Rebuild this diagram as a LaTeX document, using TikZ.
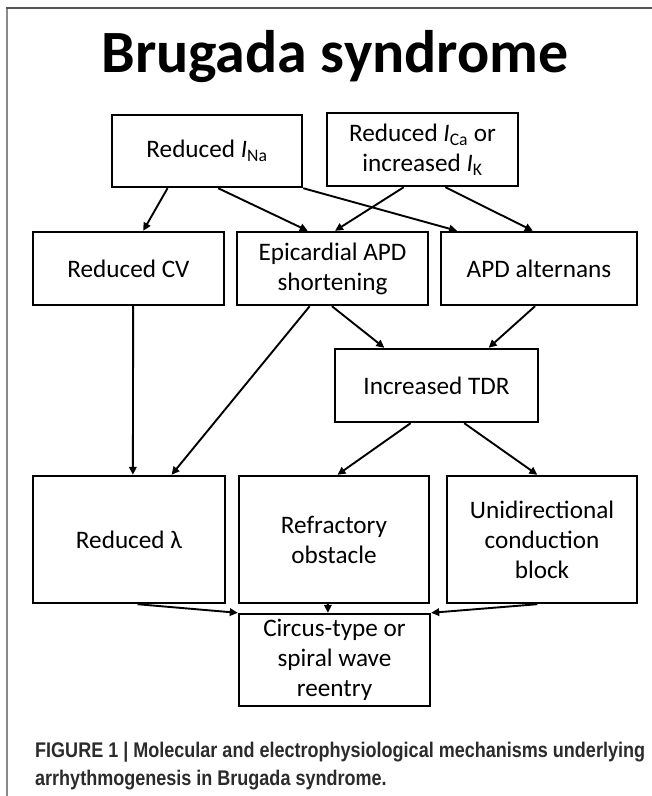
\documentclass[tikz,border=0pt]{standalone}
\usepackage{fontspec}
\setmainfont{Carlito}
\newfontfamily\capfont[FakeStretch=0.85]{Liberation Sans}
\usetikzlibrary{arrows.meta,calc}
\definecolor{framedark}{HTML}{555555}
\definecolor{framelight}{HTML}{8A8A8A}
\definecolor{captxt}{HTML}{2B2B2B}
\begin{document}
\begin{tikzpicture}[x=1pt,y=-1pt,
  box/.style={draw,line width=2.4pt,inner sep=0pt,align=center,
    font=\fontsize{25.2}{30}\selectfont},
  arr/.style={line width=1.9pt,-{Triangle[length=8pt,width=7.5pt]}},
  frameline/.style={line width=1.5pt},
  captext/.style={anchor=base west,inner sep=0pt,text=captxt,
    font=\capfont\bfseries\fontsize{21.2}{27}\selectfont}]
\useasboundingbox (0,0) rectangle (652,796);
\draw[frameline,framelight] (7,796) -- (7,8);
\draw[frameline,framedark] (6.3,8) -- (652,8);
% title
\node[anchor=base,font=\fontsize{60}{64}\selectfont\bfseries] (title) at (335,72) {Brugada syndrome};
% boxes
\node[box,minimum width=190pt,minimum height=72pt] (ina) at (207,151) {Reduced \textit{I}\textsubscript{Na}};
\node[box,minimum width=191pt,minimum height=73pt] (ica) at (422.5,149.5) {Reduced \textit{I}\textsubscript{Ca} or\\increased \textit{I}\textsubscript{K}};
\node[box,minimum width=191pt,minimum height=73pt] (cv) at (128.5,268.5) {Reduced CV};
\node[box,minimum width=191pt,minimum height=73pt] (epi) at (332.5,268.5) {Epicardial APD\\shortening};
\node[box,minimum width=196pt,minimum height=73pt] (alt) at (539,268.5) {APD alternans};
\node[box,minimum width=203pt,minimum height=73pt] (tdr) at (436.5,385.5) {Increased TDR};
\node[box,minimum width=192pt,minimum height=127pt] (lam) at (129,539.5) {Reduced λ};
\node[box,minimum width=190pt,minimum height=127pt] (refr) at (334,539.5) {Refractory\\obstacle};
\node[box,minimum width=190pt,minimum height=127pt] (uni) at (542,539.5) {Unidirectional\\conduction\\block};
\node[box,minimum width=191pt,minimum height=92pt] (circ) at (334.5,660) {Circus-type or\\spiral wave\\reentry};
% arrows
\draw[arr] ($(ina.south west)!0.295!(ina.south east)$) -- ($(cv.north west)!0.576!(cv.north east)$);
\draw[arr] ($(ina.south west)!0.558!(ina.south east)$) -- ($(epi.north west)!0.372!(epi.north east)$);
\draw[arr] (ina.south east) -- ($(alt.north west)!0.087!(alt.north east)$);
\draw[arr] ($(ica.south west)!0.403!(ica.south east)$) -- ($(epi.north west)!0.513!(epi.north east)$);
\draw[arr] ($(ica.south west)!0.618!(ica.south east)$) -- ($(alt.north west)!0.469!(alt.north east)$);
\draw[arr] ($(cv.south west)!0.524!(cv.south east)$) -- ($(lam.north west)!0.52!(lam.north east)$);
\draw[arr] ($(epi.south west)!0.382!(epi.south east)$) -- ($(lam.north west)!0.719!(lam.north east)$);
\draw[arr] ($(epi.south west)!0.497!(epi.south east)$) -- ($(tdr.north west)!0.246!(tdr.north east)$);
\draw[arr] ($(alt.south west)!0.48!(alt.south east)$) -- ($(tdr.north west)!0.754!(tdr.north east)$);
\draw[arr] ($(tdr.south west)!0.374!(tdr.south east)$) -- ($(refr.north west)!0.518!(refr.north east)$);
\draw[arr] ($(tdr.south west)!0.635!(tdr.south east)$) -- ($(uni.north west)!0.476!(uni.north east)$);
\draw[arr] ($(lam.south west)!0.544!(lam.south east)$) -- (circ.north west);
\draw[arr] ($(refr.south west)!0.468!(refr.south east)$) -- ($(circ.north west)!0.466!(circ.north east)$);
\draw[arr] ($(uni.south west)!0.476!(uni.south east)$) -- (circ.north east);
% caption
\node[captext] (cap1) at (35,757) {FIGURE 1 | Molecular and electrophysiological mechanisms underlying};
\node[captext] (cap2) at (35,785) {arrhythmogenesis in Brugada syndrome.};
\end{tikzpicture}
\end{document}
